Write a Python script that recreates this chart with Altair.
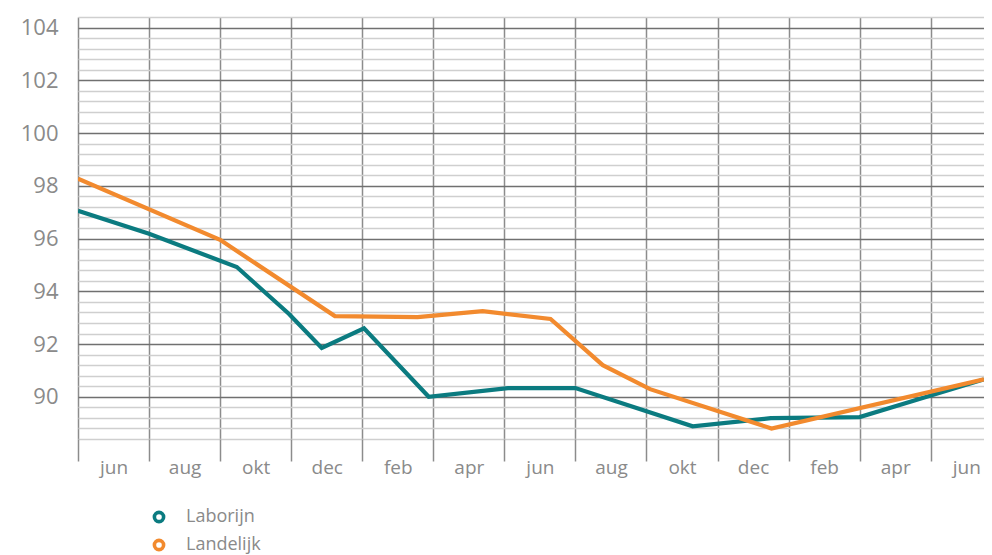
import json
import altair as alt
import pandas as pd

# x labels (one per two-month band)
month_labels = ["jun", "aug", "okt", "dec", "feb", "apr", "jun", "aug", "okt", "dec", "feb", "apr", "jun"]

# series (month offset from first June, index value)
laborijn_m = [0, 2, 4.47, 5.94, 6.86, 8.05, 9.87, 12.1, 14.0, 17.3, 19.5, 22.0, 25.5]
laborijn_v = [97.05, 96.18, 94.92, 93.14, 91.85, 92.6, 90.0, 90.33, 90.33, 88.88, 89.19, 89.23, 90.66]
landelijk_m = [0, 4.0, 7.23, 9.56, 11.39, 13.3, 14.77, 16.1, 19.52, 25.5]
landelijk_v = [98.27, 95.95, 93.06, 93.02, 93.25, 92.95, 91.2, 90.29, 88.8, 90.66]

series_names = ["Laborijn", "Landelijk"]
series_colors = ["#0b7b80", "#f28a2e"]

y_ticks = [round(88.4 + 0.4 * i, 1) for i in range(41)]
x_ticks = list(range(0, 26))

df = pd.concat([
    pd.DataFrame({"m": laborijn_m, "v": laborijn_v, "serie": "Laborijn"}),
    pd.DataFrame({"m": landelijk_m, "v": landelijk_v, "serie": "Landelijk"}),
])

FONT = "Open Sans"
GRAY = "#8a8a8a"

major_test = "abs(datum.value - round(datum.value / 2) * 2) < 0.01"
x_label_expr = f"datum.value % 2 == 1 ? {json.dumps(month_labels)}[(datum.value - 1) / 2] : ''"

chart = alt.Chart(df).mark_line(strokeWidth=4.2, clip=True).encode(
    x=alt.X(
        "m:Q",
        title=None,
        scale=alt.Scale(domain=[0, 25.5], nice=False, zero=False),
        axis=alt.Axis(
            values=x_ticks,
            grid=True,
            gridColor="#8c8c8c",
            gridWidth=1.5,
            gridOpacity={"condition": {"test": "datum.value % 2 == 0", "value": 1}, "value": 0},
            ticks=True,
            tickSize=22,
            tickColor="#8c8c8c",
            tickWidth=1.5,
            tickOpacity={"condition": {"test": "datum.value % 2 == 0", "value": 1}, "value": 0},
            domain=False,
            labelExpr=x_label_expr,
            labelFont=FONT,
            labelFontSize=19,
            labelColor=GRAY,
            labelPadding=-3,
            labelFlush=False,
            labelOverlap=False,
        ),
    ),
    y=alt.Y(
        "v:Q",
        title=None,
        scale=alt.Scale(domain=[88.4, 104.4], nice=False, zero=False),
        axis=alt.Axis(
            values=y_ticks,
            grid=True,
            gridColor={"condition": {"test": major_test, "value": "#707070"}, "value": "#cfcfcf"},
            gridWidth=1.4,
            ticks=False,
            domain=False,
            labelExpr=f"{major_test} ? format(datum.value, 'd') : ''",
            labelFont=FONT,
            labelFontSize={"condition": {"test": major_test, "value": 22}, "value": 0},
            labelColor=GRAY,
            labelPadding=20,
            labelFlush=False,
            labelOverlap=False,
        ),
    ),
    color=alt.Color(
        "serie:N",
        scale=alt.Scale(domain=series_names, range=series_colors),
        legend=alt.Legend(
            title=None,
            orient="none",
            legendX=72,
            legendY=491,
            symbolType="circle",
            symbolSize=85,
            symbolStrokeWidth=3.6,
            symbolFillColor="white",
            labelFont=FONT,
            labelFontSize=18,
            labelColor=GRAY,
            labelOffset=18,
            rowPadding=4,
        ),
    ),
).properties(
    width=906,
    height=422,
    padding={"left": 12, "top": 8, "right": 0, "bottom": 0},
).configure_view(stroke=None)

chart.save("out.html", embed_options={"renderer": "svg", "actions": False})
